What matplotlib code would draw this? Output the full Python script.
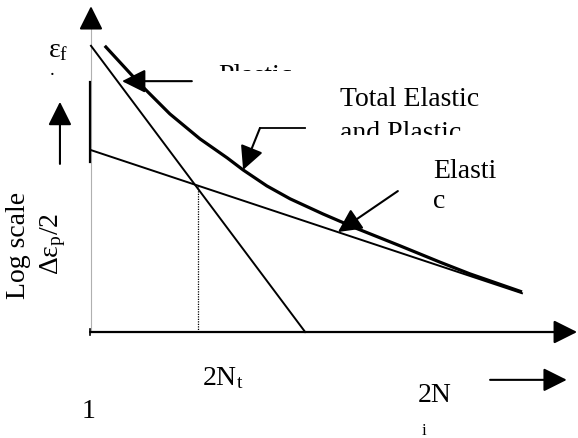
import matplotlib
matplotlib.use("Agg")
import matplotlib.pyplot as plt
from matplotlib.patches import Rectangle

plt.rcParams['font.family'] = 'Liberation Serif'
plt.rcParams['mathtext.fontset'] = 'custom'
plt.rcParams['mathtext.rm'] = 'Liberation Serif'
plt.rcParams['mathtext.it'] = 'Liberation Serif:italic'
plt.rcParams['mathtext.bf'] = 'Liberation Serif:bold'

# schematic strain-life curves (log 2N on x, log strain amplitude on y)
plastic_x = [0.0, 4.97]
plastic_y = [6.64, 0.0]

elastic_x = [0.0, 10.0]
elastic_y = [4.22, 0.90]

total_x = [0.32, 1.14, 1.83, 2.53, 3.16, 3.53, 4.08, 4.62, 5.38, 6.17, 7.17, 8.10, 8.79, 10.0]
total_y = [6.64, 5.75, 5.06, 4.48, 4.04, 3.76, 3.39, 3.09, 2.74, 2.40, 2.00, 1.62, 1.35, 0.93]

# transition life 2N_t
nt_x = 2.48
nt_y = 3.42

FS = 20

fig = plt.figure(figsize=(5.78, 4.39), dpi=100)
ax = fig.add_axes([0, 0, 1, 1])
ax.set_xlim(-2.111, 11.30)
ax.set_ylim(-2.459, 7.726)
ax.axis('off')


def arrow(x0, y0, x1, y1, lw=1.5):
    ax.annotate('', xy=(x1, y1), xytext=(x0, y0),
                arrowprops=dict(arrowstyle='-|>,head_length=0.8,head_width=0.4',
                                mutation_scale=18, lw=lw, color='black',
                                shrinkA=0, shrinkB=0))


# axes
ax.plot([0, 0], [0, 7.15], color='#b0b0b0', lw=0.8)
arrow(0, 7.1, 0, 7.56)
arrow(-0.02, 0, 11.28, 0, lw=1.6)
ax.plot([-0.02, -0.02], [-0.08, 0.08], color='black', lw=1.2)

# curves
ax.plot(plastic_x, plastic_y, color='black', lw=1.4)
ax.plot(elastic_x, elastic_y, color='black', lw=1.4)
ax.plot(total_x, total_y, color='black', lw=2.3, solid_capstyle='butt',
        solid_joinstyle='round')
ax.plot([nt_x, nt_x], [0, nt_y], color='black', lw=0.9, ls=(0, (1, 1)))

# short bar beside y axis
ax.plot([-0.03, -0.03], [5.80, 3.94], color='black', lw=1.6)

# pointer arrows
arrow(2.34, 5.82, 0.72, 5.82)
ax.plot([4.97, 3.92], [4.73, 4.73], color='black', lw=1.3)
arrow(3.92, 4.73, 3.53, 3.76)
arrow(7.12, 3.27, 5.73, 2.32)
arrow(-0.72, 3.90, -0.72, 5.34)
arrow(9.26, -1.11, 11.04, -1.11)

# labels (two of them are cut off at the bottom in the original)
t = ax.text(2.95, 6.24, 'Plastic', fontsize=FS, ha='left', va='top', clip_on=True)
t.set_clip_path(Rectangle((2.5, 6.06), 3, 1.5, transform=ax.transData))
ax.text(5.78, 5.27, 'Total Elastic', fontsize=FS, ha='left', va='baseline')
t = ax.text(5.78, 4.48, 'and Plastic', fontsize=FS, ha='left', va='baseline', clip_on=True)
t.set_clip_path(Rectangle((5.5, 4.57), 5, 1.0, transform=ax.transData))
ax.text(7.94, 3.60, 'Elasti', fontsize=FS, ha='left', va='baseline')
ax.text(7.94, 2.90, 'c', fontsize=FS, ha='left', va='baseline')

ax.text(-1.00, 6.40, r'$\mathrm{ε_f}$', fontsize=FS, ha='left', va='baseline')
ax.text(-0.90, 5.99, '.', fontsize=FS - 6, ha='center', va='baseline')

ax.text(-1.53, 2.04, 'Log scale', fontsize=FS, rotation=90,
        rotation_mode='anchor', ha='center', va='baseline')
ax.text(-0.77, 2.06, r'$\mathrm{Δε_p/2}$', fontsize=FS, rotation=90,
        rotation_mode='anchor', ha='center', va='baseline')

ax.text(2.58, -1.21, r'$\mathrm{2N_t}$', fontsize=FS, ha='left', va='baseline')
ax.text(-0.21, -1.97, '1', fontsize=FS, ha='left', va='baseline')
ax.text(7.59, -1.60, '2N', fontsize=FS, ha='left', va='baseline')
ax.text(7.66, -2.36, 'i', fontsize=FS - 8, ha='left', va='baseline')

fig.savefig('out.png', dpi=100)
